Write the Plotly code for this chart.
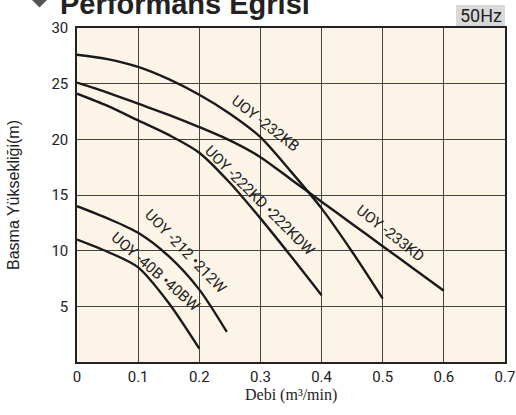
import plotly.graph_objects as go

# ---- data ----
x_232kb = [0, 0.05, 0.1, 0.15, 0.2, 0.25, 0.3, 0.35, 0.4, 0.45, 0.5]
y_232kb = [27.6, 27.2, 26.5, 25.4, 24.0, 22.3, 20.2, 17.1, 13.8, 9.9, 5.7]

x_233kd = [0, 0.05, 0.1, 0.15, 0.2, 0.25, 0.3, 0.35, 0.4, 0.45, 0.5, 0.55, 0.6]
y_233kd = [25.1, 24.2, 23.2, 22.2, 21.1, 19.9, 18.4, 16.4, 14.4, 12.4, 10.4, 8.4, 6.4]

x_222kd = [0, 0.05, 0.1, 0.15, 0.2, 0.25, 0.3, 0.35, 0.4]
y_222kd = [24.1, 23.0, 21.7, 20.4, 18.8, 16.1, 12.9, 9.5, 6.0]

x_212 = [0, 0.05, 0.1, 0.15, 0.2, 0.245]
y_212 = [14.0, 12.9, 11.6, 9.5, 6.5, 2.7]

x_40b = [0, 0.05, 0.1, 0.15, 0.2]
y_40b = [11.0, 9.9, 8.5, 5.3, 1.2]

series_names = ["UOY -232KB", "UOY -233KD", "UOY -222KD •222KDW", "UOY -212 •212W", "UOY -40B •40BW"]
label_x = [0.309, 0.512, 0.300, 0.177, 0.129]
label_y = [21.4, 11.6, 14.5, 9.95, 8.1]
label_angle = [38, 38, 45, 46, 41]

x_ticks = [0, 0.1, 0.2, 0.3, 0.4, 0.5, 0.6, 0.7]
y_ticks = [5, 10, 15, 20, 25, 30]

title_text = "Performans Eğrisi"
freq_text = "50Hz"
x_title = "Debi (m³/min)"
y_title = "Basma Yüksekliği(m)"

# ---- figure ----
fig = go.Figure()
curve_data = [(x_232kb, y_232kb), (x_233kd, y_233kd), (x_222kd, y_222kd), (x_212, y_212), (x_40b, y_40b)]
for (xs, ys), nm in zip(curve_data, series_names):
    fig.add_trace(go.Scatter(x=xs, y=ys, mode="lines", name=nm,
                             line=dict(color="#1a1a1a", width=2.4, shape="spline", smoothing=0.8),
                             showlegend=False, hoverinfo="skip"))

annotations = []
for nm, lx, ly, ang in zip(series_names, label_x, label_y, label_angle):
    annotations.append(dict(x=lx, y=ly, xref="x", yref="y", text=nm, showarrow=False,
                            textangle=ang, xanchor="center", yanchor="middle",
                            font=dict(family="Roboto", size=15, color="#222222")))

L, R, T, B = 77, 505, 28, 362
W, H = 516, 415
pw, ph = R - L, B - T

def px(xp):
    return (xp - L) / pw

def py(yp):
    return (B - yp) / ph

annotations.append(dict(x=px(58), y=py(4), xref="paper", yref="paper", text="<b>" + title_text + "</b>",
                        showarrow=False, xanchor="left", yanchor="middle",
                        font=dict(family="Liberation Sans", size=29, color="#222222")))
annotations.append(dict(x=px(480.5), y=py(16), xref="paper", yref="paper", text=freq_text,
                        showarrow=False, xanchor="center", yanchor="middle",
                        font=dict(family="Roboto", size=18, color="#222222")))
annotations.append(dict(x=0.5, y=py(395), xref="paper", yref="paper", text=x_title,
                        showarrow=False, xanchor="center", yanchor="middle",
                        font=dict(family="Liberation Serif", size=16, color="#222222")))
annotations.append(dict(x=px(13), y=0.5, xref="paper", yref="paper", text=y_title,
                        showarrow=False, xanchor="center", yanchor="middle", textangle=-90,
                        font=dict(family="Liberation Sans", size=16, color="#222222")))

shapes = [
    dict(type="rect", xref="paper", yref="paper", x0=px(456), x1=px(505), y0=py(27), y1=py(5),
         fillcolor="#d9d9d9", line=dict(width=0), layer="below"),
    dict(type="path", xref="paper", yref="paper",
         path=f"M {px(32)} {py(0)} L {px(39.5)} {py(-7.5)} L {px(47)} {py(0)} L {px(39.5)} {py(7.5)} Z",
         fillcolor="#555555", line=dict(width=0)),
]

fig.update_layout(
    width=W, height=H,
    margin=dict(l=L, r=W - R, t=T, b=H - B, autoexpand=False),
    paper_bgcolor="white", plot_bgcolor="#fcf5e7",
    annotations=annotations, shapes=shapes,
    xaxis=dict(range=[0, 0.7], tickvals=x_ticks, ticktext=[("%g" % v) for v in x_ticks],
               automargin=False,
               showgrid=True, gridcolor="#444444", gridwidth=1.4,
               showline=True, linecolor="#222222", linewidth=1.5, mirror=True,
               zeroline=False, ticks="", tickfont=dict(family="Roboto", size=15, color="#222222")),
    yaxis=dict(range=[0, 30], tickvals=y_ticks, automargin=False,
               showgrid=True, gridcolor="#444444", gridwidth=1.4,
               showline=True, linecolor="#222222", linewidth=1.5, mirror=True,
               zeroline=False, ticks="", ticklabelstandoff=4,
               tickfont=dict(family="Roboto", size=15, color="#222222")),
)

fig.write_html("out.html", config={"displayModeBar": False},
               post_script="document.body.style.margin='0px';document.body.style.overflow='hidden';")
